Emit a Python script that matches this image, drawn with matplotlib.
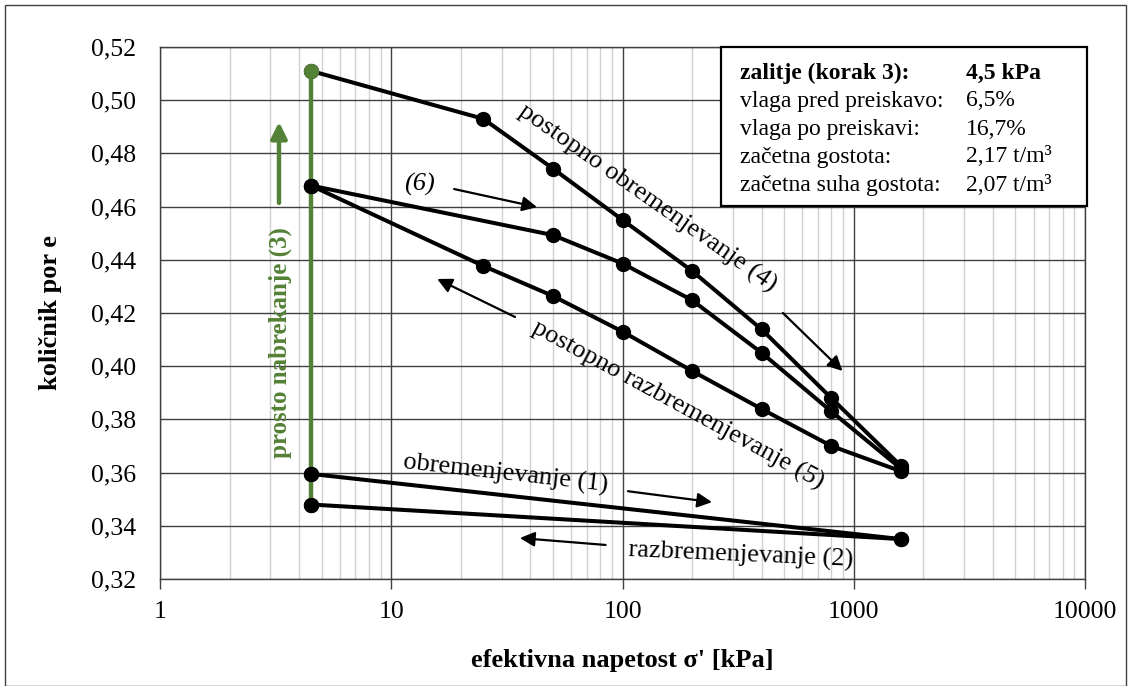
import matplotlib
matplotlib.use('Agg')
import matplotlib.pyplot as plt
from matplotlib.patches import Rectangle
from matplotlib.ticker import FixedLocator, LogLocator, NullFormatter, FuncFormatter

plt.rcParams['font.family'] = ['Liberation Serif', 'DejaVu Serif']

# ─── data ───
x_swell = [4.5, 4.5]
e_swell = [0.348, 0.511]

x_load1 = [4.5, 1600]
e_load1 = [0.3595, 0.335]

x_unload2 = [1600, 4.5]
e_unload2 = [0.335, 0.348]

x_load4 = [4.5, 25, 50, 100, 200, 400, 800, 1600]
e_load4 = [0.511, 0.493, 0.4743, 0.455, 0.4358, 0.4138, 0.388, 0.3625]

x_unload5 = [1600, 800, 400, 200, 100, 50, 25, 4.5]
e_unload5 = [0.3605, 0.370, 0.3839, 0.3982, 0.413, 0.4264, 0.4377, 0.4679]

x_reload6 = [4.5, 50, 100, 200, 400, 800, 1600]
e_reload6 = [0.4679, 0.4493, 0.4386, 0.4248, 0.405, 0.383, 0.3615]

info_labels = ['zalitje (korak 3):', 'vlaga pred preiskavo:', 'vlaga po preiskavi:',
               'začetna gostota:', 'začetna suha gostota:']
info_values = ['4,5 kPa', '6,5%', '16,7%', '2,17 t/m³', '2,07 t/m³']

GREEN = '#538135'

fig = plt.figure(figsize=(11.31, 6.86), dpi=100)
ax = fig.add_axes([160 / 1131, 107 / 686, 925 / 1131, 532 / 686])

ax.set_xscale('log')
ax.set_xlim(1, 10000)
ax.set_ylim(0.32, 0.52)

# grid
ax.xaxis.set_major_locator(LogLocator(base=10, numticks=10))
ax.xaxis.set_minor_locator(LogLocator(base=10, subs=range(2, 10), numticks=20))
ax.xaxis.set_minor_formatter(NullFormatter())
ax.xaxis.set_major_formatter(FuncFormatter(lambda v, p: f'{v:.0f}'))
ax.yaxis.set_major_locator(FixedLocator([0.32 + 0.02 * i for i in range(11)]))
ax.yaxis.set_major_formatter(FuncFormatter(lambda v, p: f'{v:.2f}'.replace('.', ',')))
ax.grid(which='major', color='#404040', lw=1.0, zorder=0)
ax.grid(which='minor', axis='x', color='#d0d0d0', lw=1.0, zorder=0)
ax.set_axisbelow(True)
for s in ax.spines.values():
    s.set_color('#404040')
    s.set_linewidth(1.0)
ax.tick_params(which='major', direction='out', color='#404040', labelsize=18.5)
ax.tick_params(axis='x', which='major', length=7, width=1, pad=9)
ax.tick_params(axis='y', which='major', length=0, pad=17)
ax.tick_params(which='minor', length=0)

ax.set_xlabel("efektivna napetost σ' [kPa]", fontsize=19, fontweight='bold', va='center')
ax.set_ylabel('količnik por e', fontsize=19, fontweight='bold', va='center')
ax.xaxis.set_label_coords(0.5, (579 - 661) / 532)
ax.yaxis.set_label_coords((51 - 160) / 925, 0.5)

# curves
mk = dict(color='black', lw=2.9, marker='o', ms=10, zorder=4)
ax.plot(x_load1, e_load1, **mk)
ax.plot(x_unload2, e_unload2, **mk)
ax.plot(x_unload5, e_unload5, **mk)
ax.plot(x_reload6, e_reload6, **mk)
ax.plot(x_load4, e_load4, **mk)
ax.plot(x_swell, e_swell, color=GREEN, lw=3.2, zorder=5)
ax.plot(x_swell[-1:], e_swell[-1:], 'o', color=GREEN, ms=10, zorder=6)
ax.plot(x_load1[:1], e_load1[:1], 'o', color='black', ms=10, zorder=6)
ax.plot(x_unload2[-1:], e_unload2[-1:], 'o', color='black', ms=10, zorder=6)
ax.plot(x_unload5[-1:], e_unload5[-1:], 'o', color='black', ms=10, zorder=6)

# annotations
fs = 19
arr = dict(arrowstyle='-|>', color='black', lw=1.6, mutation_scale=22, shrinkA=0, shrinkB=0)

ax.text(128, 0.4630, 'postopno obremenjevanje (4)', fontsize=fs, rotation=-35,
        ha='center', va='center', rotation_mode='anchor', zorder=7)
ax.annotate('', xy=(894, 0.3982), xytext=(494, 0.420), arrowprops=arr)

ax.text(174, 0.3855, 'postopno razbremenjevanje (5)', fontsize=fs, rotation=-28.5,
        ha='center', va='center', rotation_mode='anchor', zorder=7)
ax.annotate('', xy=(15.8, 0.4328), xytext=(34.3, 0.4185), arrowprops=arr)

ax.text(13.2, 0.4685, '(6)', fontsize=fs, style='italic', ha='center', va='center', zorder=7)
ax.annotate('', xy=(42.7, 0.4598), xytext=(18.7, 0.4666), arrowprops=arr)

ax.text(31.3, 0.3595, 'obremenjevanje (1)', fontsize=fs, rotation=-6.4,
        ha='center', va='center', rotation_mode='anchor', zorder=7)
ax.annotate('', xy=(243.8, 0.3489), xytext=(105.6, 0.353), arrowprops=arr)

ax.text(325, 0.329, 'razbremenjevanje (2)', fontsize=fs, rotation=-2.5,
        ha='center', va='center', rotation_mode='anchor', zorder=7)
ax.annotate('', xy=(36.0, 0.3354), xytext=(84.5, 0.3328), arrowprops=arr)

ax.text(3.30, 0.409, 'prosto nabrekanje (3)', fontsize=18, fontweight='bold', color=GREEN,
        rotation=90, ha='center', va='center', zorder=7)
ax.annotate('', xy=(3.27, 0.4918), xytext=(3.27, 0.4614),
            arrowprops=dict(arrowstyle='-|>', color=GREEN, lw=3.2, mutation_scale=24,
                            shrinkA=0, shrinkB=0))

# info box
ax.add_patch(Rectangle(((721 - 160) / 925, (579 - 206) / 532), (1087 - 721) / 925,
                       (206 - 47) / 532, transform=ax.transAxes, clip_on=False,
                       facecolor='white', edgecolor='black', lw=1.6, zorder=8))
rows_px = [73, 101, 129, 157, 185]
for i, (lab, val) in enumerate(zip(info_labels, info_values)):
    fw = 'bold' if i == 0 else 'normal'
    yy = (579 - rows_px[i]) / 532
    ax.text((740 - 160) / 925, yy, lab, transform=ax.transAxes, fontsize=17, fontweight=fw,
            ha='left', va='center', zorder=9)
    ax.text((966 - 160) / 925, yy, val, transform=ax.transAxes, fontsize=17, fontweight=fw,
            ha='left', va='center', zorder=9)

# outer border
fig.add_artist(Rectangle((5 / 1131, 0), 1121 / 1131, 681 / 686, transform=fig.transFigure,
                         fill=False, edgecolor='#404040', lw=1.0))

fig.savefig('out.png', dpi=100, facecolor='white')
print('Saved out.png')
